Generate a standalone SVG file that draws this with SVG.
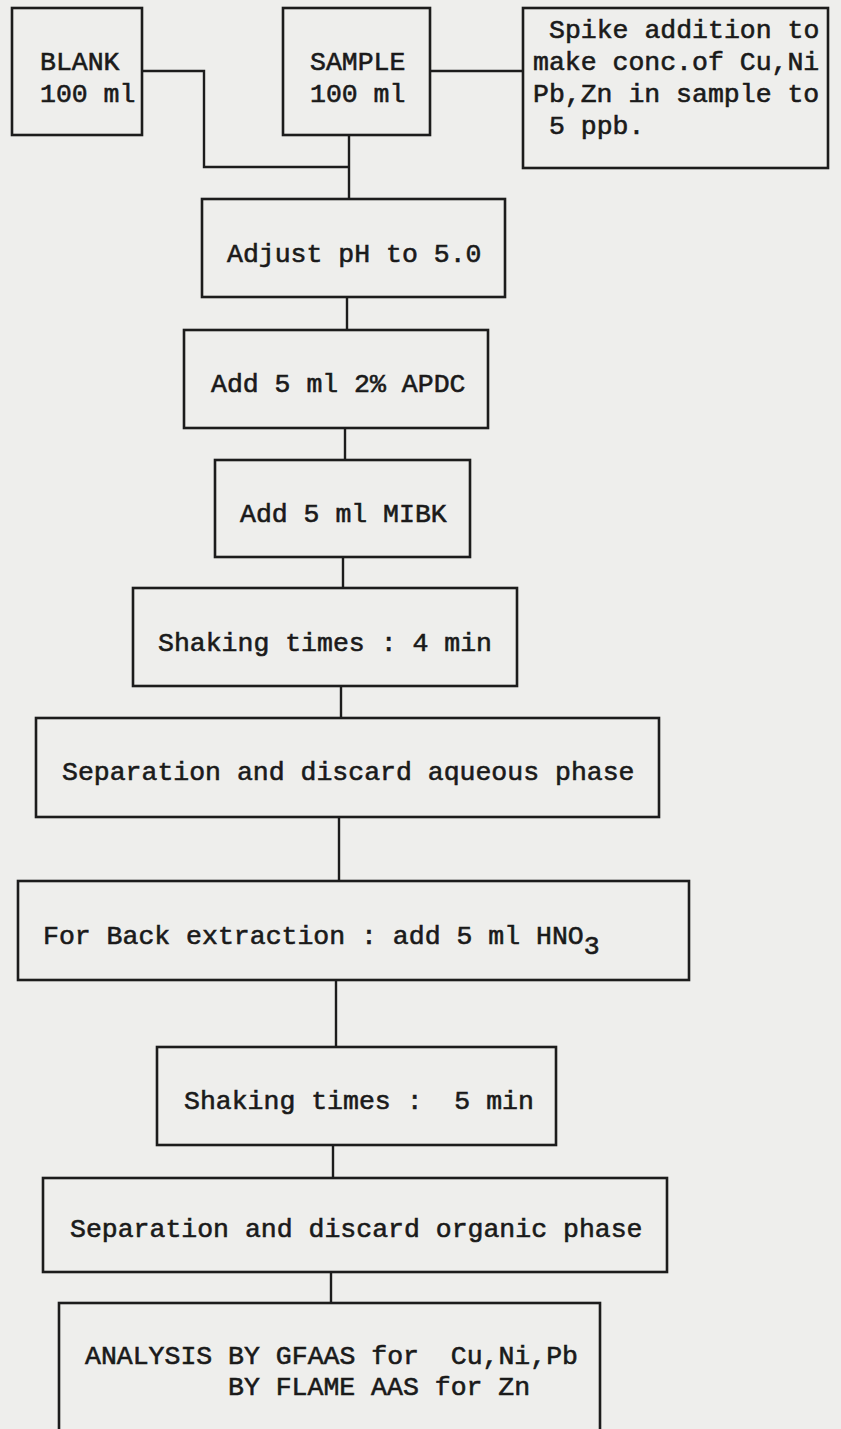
<svg xmlns="http://www.w3.org/2000/svg" width="841" height="1429" viewBox="0 0 841 1429" xml:space="preserve">
<style>
.bg{fill:#eeeeec}
.box{fill:none;stroke:#1c1c1c;stroke-width:2.6}
.con{fill:none;stroke:#1c1c1c;stroke-width:2.4}
.t{font-family:"Liberation Mono","DejaVu Sans Mono",monospace;font-size:26.5px;fill:#1a1a1a;stroke:#1a1a1a;stroke-width:0.6;white-space:pre}
</style>
<rect class="bg" x="0" y="0" width="841" height="1429"/>
<g id="connectors">
<polyline class="con" points="142,71 204,71 204,167 349,167"/>
<line class="con" x1="349" y1="135" x2="349" y2="199"/>
<line class="con" x1="430" y1="71" x2="523" y2="71"/>
<line class="con" x1="347" y1="297" x2="347" y2="330"/>
<line class="con" x1="345" y1="428" x2="345" y2="460"/>
<line class="con" x1="343" y1="557" x2="343" y2="588"/>
<line class="con" x1="341" y1="686" x2="341" y2="718"/>
<line class="con" x1="339" y1="817" x2="339" y2="881"/>
<line class="con" x1="336" y1="980" x2="336" y2="1047"/>
<line class="con" x1="333" y1="1145" x2="333" y2="1178"/>
<line class="con" x1="331" y1="1272" x2="331" y2="1303"/>
</g>
<g id="blank">
<rect class="box" x="12" y="8" width="130" height="127"/>
<text class="t" x="40" y="70">BLANK</text>
<text class="t" x="40" y="102">100 ml</text>
</g>
<g id="sample">
<rect class="box" x="283" y="8" width="147" height="127"/>
<text class="t" x="310" y="70">SAMPLE</text>
<text class="t" x="310" y="102">100 ml</text>
</g>
<g id="spike">
<rect class="box" x="523" y="8" width="305" height="160"/>
<text class="t" x="549" y="38">Spike addition to</text>
<text class="t" x="533" y="70">make conc.of Cu,Ni</text>
<text class="t" x="533" y="102">Pb,Zn in sample to</text>
<text class="t" x="549" y="134">5 ppb.</text>
</g>
<g id="adjust">
<rect class="box" x="202" y="199" width="303" height="98"/>
<text class="t" x="227" y="262">Adjust pH to 5.0</text>
</g>
<g id="apdc">
<rect class="box" x="184" y="330" width="304" height="98"/>
<text class="t" x="211" y="392">Add 5 ml 2% APDC</text>
</g>
<g id="mibk">
<rect class="box" x="215" y="460" width="255" height="97"/>
<text class="t" x="240" y="522">Add 5 ml MIBK</text>
</g>
<g id="shake4">
<rect class="box" x="133" y="588" width="384" height="98"/>
<text class="t" x="158" y="651">Shaking times : 4 min</text>
</g>
<g id="sepaq">
<rect class="box" x="36" y="718" width="623" height="99"/>
<text class="t" x="62" y="780">Separation and discard aqueous phase</text>
</g>
<g id="back">
<rect class="box" x="18" y="881" width="671" height="99"/>
<text class="t" x="43" y="944">For Back extraction : add 5 ml HNO<tspan dy="10">3</tspan></text>
</g>
<g id="shake5">
<rect class="box" x="157" y="1047" width="399" height="98"/>
<text class="t" x="184" y="1109">Shaking times :  5 min</text>
</g>
<g id="seporg">
<rect class="box" x="43" y="1178" width="624" height="94"/>
<text class="t" x="70" y="1237">Separation and discard organic phase</text>
</g>
<g id="analysis">
<rect class="box" x="59" y="1303" width="541" height="140"/>
<text class="t" x="85" y="1364">ANALYSIS BY GFAAS for  Cu,Ni,Pb</text>
<text class="t" x="228" y="1395">BY FLAME AAS for Zn</text>
</g>
</svg>
